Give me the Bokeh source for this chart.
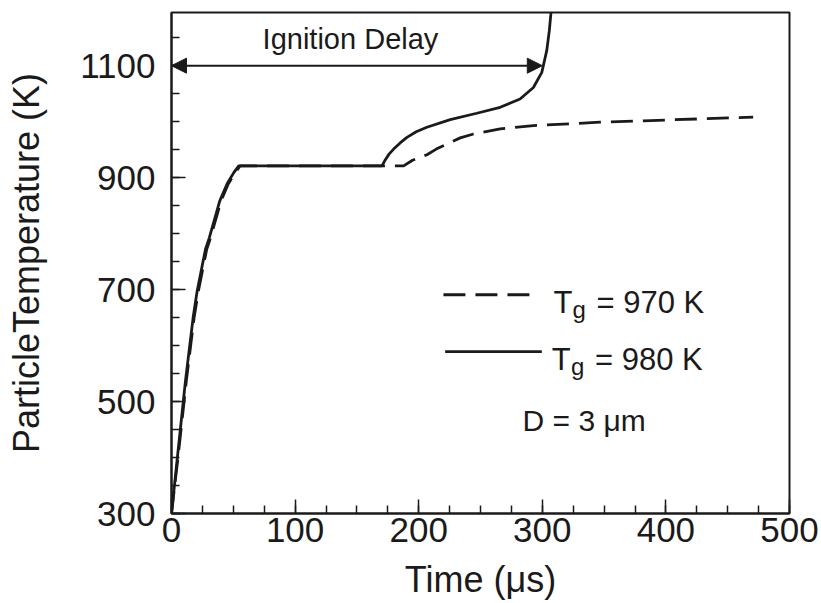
from bokeh.plotting import figure
from bokeh.models import FixedTicker, Label, Arrow, NormalHead
from bokeh.embed import file_html
from bokeh.resources import INLINE

# ---- data ----
t_980 = [0, 5, 11.3, 17.5, 20.8, 27.5, 30.5, 39, 45, 50.4, 54.4, 170.3, 172.5, 176, 179.7,
         185, 190.5, 198, 206.6, 225.5, 247, 265.9, 282, 292.8, 299.6, 303.6, 305.7, 306.9, 307.8]
T_980 = [300, 405, 537, 650, 698, 772, 792, 858, 889, 909, 921, 921, 930, 942, 951,
         962, 972, 982, 990, 1003.5, 1015, 1025.6, 1040.5, 1061, 1088, 1127, 1163, 1192, 1230]

t_970 = [0, 5.5, 12, 18.3, 21.8, 28.5, 31.5, 40, 46, 51.5, 55.5, 187.8, 195, 206.7,
         214.2, 233.6, 244.3, 265.9, 292.8, 346.7, 400.6, 470.6]
T_970 = [300, 405, 537, 650, 698, 772, 792, 858, 889, 909, 921, 921, 931, 941,
         951, 971, 978, 987, 993, 999, 1003, 1008]

x_major = [0, 100, 200, 300, 400, 500]
x_minor = [v for v in range(0, 501, 25)]
y_major = [300, 500, 700, 900, 1100]
y_minor = [v for v in range(300, 1201, 50)]

delay_start, delay_end, delay_level = 0, 300, 1100

INK = "#1a1a1a"
FONT = "Liberation Sans"

p = figure(width=821, height=603, x_range=(0, 500), y_range=(300, 1195),
           output_backend="svg", toolbar_location=None,
           min_border_left=171, min_border_right=32, min_border_top=12, min_border_bottom=90)

p.xgrid.visible = False
p.ygrid.visible = False
p.background_fill_color = "white"
p.border_fill_color = "white"
p.outline_line_color = INK
p.outline_line_width = 2
p.outline_line_alpha = 1

for ax, maj, mnr in ((p.xaxis[0], x_major, x_minor), (p.yaxis[0], y_major, y_minor)):
    ax.ticker = FixedTicker(ticks=maj, minor_ticks=mnr)
    ax.axis_line_color = INK
    ax.axis_line_width = 2
    ax.major_tick_in = 14
    ax.major_tick_out = 0
    ax.minor_tick_in = 8
    ax.minor_tick_out = 0
    ax.major_tick_line_color = INK
    ax.minor_tick_line_color = INK
    ax.major_tick_line_width = 1.5
    ax.minor_tick_line_width = 1.5
    ax.major_label_text_font = FONT
    ax.major_label_text_font_size = "35px"
    ax.major_label_text_color = INK
    ax.axis_label_text_font = FONT
    ax.axis_label_text_font_size = "36px"
    ax.axis_label_text_font_style = "normal"
    ax.axis_label_text_color = INK

p.xaxis.axis_label = "Time (μs)"
p.yaxis.axis_label = "ParticleTemperature (K)"
p.xaxis.major_label_standoff = 4
p.xaxis.axis_label_standoff = 14
p.yaxis.major_label_standoff = 16
p.yaxis.axis_label_standoff = 30

p.line(t_970, T_970, line_color=INK, line_width=2.8, line_dash="22 10")
p.line(t_980, T_980, line_color=INK, line_width=2.8)

# ignition delay arrow
head = dict(size=15, fill_color=INK, line_color=INK)
p.add_layout(Arrow(start=NormalHead(**head), end=NormalHead(**head),
                   x_start=delay_start, y_start=delay_level, x_end=delay_end, y_end=delay_level,
                   line_color=INK, line_width=2))
p.add_layout(Label(x=144.8, y=1148, text="Ignition Delay", text_font=FONT,
                   text_font_size="29px", text_color=INK, text_align="center",
                   text_baseline="alphabetic"))

# legend
p.line([220, 291.5], [690.8, 690.8], line_color=INK, line_width=2.8, line_dash="22 10")
p.line([221.4, 299.6], [589, 589], line_color=INK, line_width=2.8)

def lab(x, y, text, size="31px"):
    p.add_layout(Label(x=x, y=y, text=text, text_font=FONT, text_font_size=size,
                       text_color=INK, text_align="left", text_baseline="alphabetic"))

lab(309.0, 677, "T")
lab(324.5, 664, "g", "24px")
lab(343.9, 677, "= 970 K")
lab(307.7, 576, "T")
lab(323.3, 563, "g", "24px")
lab(342.6, 576, "= 980 K")
lab(284.0, 465.6, "D = 3 μm", "30px")

open("out.html", "w").write(file_html(p, INLINE))
